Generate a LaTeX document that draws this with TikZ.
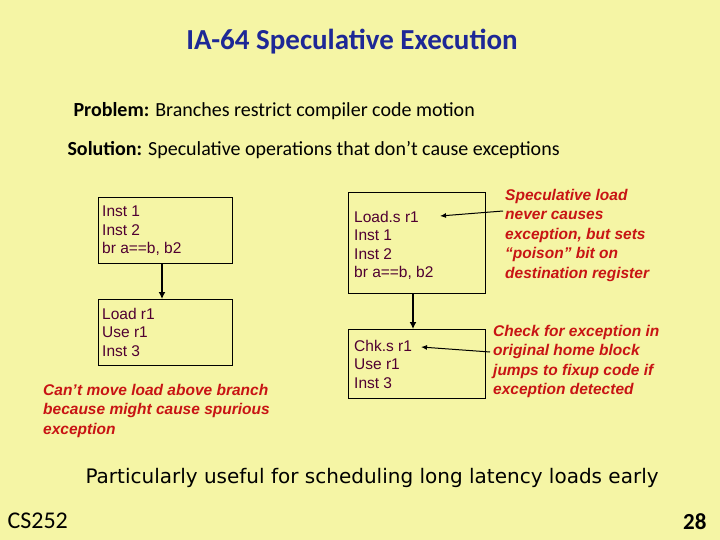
\documentclass[tikz,border=0pt]{standalone}
\usepackage{fontspec}
\setmainfont{Liberation Sans}
\newfontfamily\carl{Carlito}
\newfontfamily\dvs{DejaVu Sans}
\usetikzlibrary{arrows.meta}
\definecolor{bg}{RGB}{245,245,165}
\definecolor{ttl}{RGB}{30,40,150}
\definecolor{maroon}{RGB}{80,0,50}
\definecolor{redt}{RGB}{200,20,20}
\begin{document}
\begin{tikzpicture}[x=1pt,y=-1pt,
  code/.style={anchor=north west,align=left,text=maroon,inner sep=1pt,font=\fontsize{15.5}{18.5}\selectfont},
  note/.style={anchor=north west,align=left,text=redt,inner sep=1pt,font=\fontsize{15.5}{19.4}\selectfont\bfseries\itshape},
  varr/.style={line width=2.2pt,-{Latex[length=7pt,width=7pt]}},
  harr/.style={line width=1pt,-{Latex[length=6pt,width=5pt]}}]
\fill[bg] (0,0) rectangle (720,540);
\node (title) at (352,42) {\carl\fontsize{29}{34}\selectfont\bfseries\color{ttl}IA-64 Speculative Execution};
\node[anchor=west] (p) at (70,111) {\carl\fontsize{20}{24}\selectfont\textbf{Problem:} Branches restrict compiler code motion};
\node[anchor=west] (s) at (64,150) {\carl\fontsize{20}{24}\selectfont\textbf{Solution:} Speculative operations that don’t cause exceptions};
\draw[line width=0.8pt] (98,197) rectangle (232,263);
\draw[line width=0.8pt] (98,299) rectangle (232,365);
\draw[line width=0.8pt] (348,192) rectangle (485,293);
\draw[line width=0.8pt] (348,329) rectangle (485,398);
\coordinate (b1) at (162,263); \coordinate (b2) at (162,299);
\coordinate (b3) at (413,293); \coordinate (b4) at (413,329);
\draw[varr] (b1) -- (b2);
\draw[varr] (b3) -- (b4);
\node[code] (t1) at (101,205) {Inst 1\\Inst 2\\br a==b, b2};
\node[code] (t2) at (101,307) {Load r1\\Use r1\\Inst 3};
\node[code] (t3) at (353,210) {Load.s r1\\Inst 1\\Inst 2\\br a==b, b2};
\node[code] (t4) at (353,339) {Chk.s r1\\Use r1\\Inst 3};
\node[note] (n1) at (42,383) {Can’t move load above branch\\because might cause spurious\\exception};
\node[note] (n2) at (504,188) {Speculative load\\never causes\\exception, but sets\\“poison” bit on\\destination register};
\node[note] (n3) at (492,324) {Check for exception in\\original home block\\jumps to fixup code if\\exception detected};
\coordinate (a1) at (503,211); \coordinate (a1e) at (440,216);
\coordinate (a2) at (490,352); \coordinate (a2e) at (421,347);
\draw[harr] (a1) -- (a1e);
\draw[harr] (a2) -- (a2e);
\node[anchor=west] (pu) at (82,478) {\dvs\fontsize{20}{24}\selectfont Particularly useful for scheduling long latency loads early};
\node[anchor=west] (cs) at (4,521) {\carl\fontsize{24}{28}\selectfont CS252};
\node[anchor=east] (pg) at (710,522) {\carl\fontsize{23}{28}\selectfont\bfseries 28};
\end{tikzpicture}
\end{document}
